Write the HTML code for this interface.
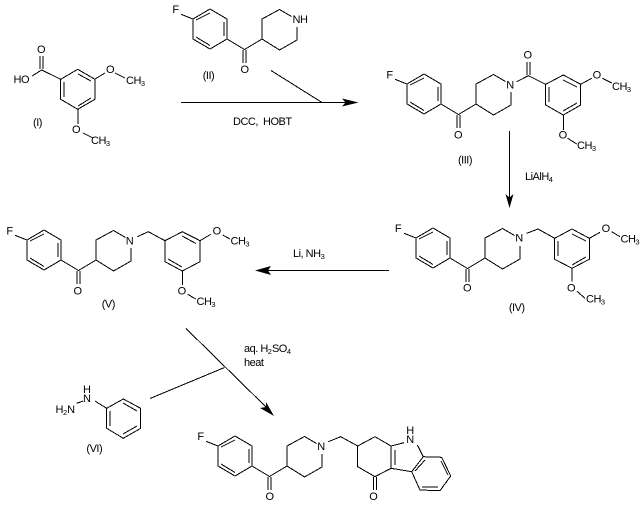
<!DOCTYPE html>
<html><head><meta charset="utf-8"><style>
html,body{margin:0;padding:0;background:#fff}
svg{display:block}
text{font-family:"Liberation Sans",sans-serif;font-size:11px;letter-spacing:-.5px;fill:#000;white-space:pre}
.m{text-anchor:middle}
.s{font-size:7.5px;letter-spacing:0}
.b{stroke:#000;stroke-width:1;fill:none;shape-rendering:crispEdges}
.a{stroke:#000;stroke-width:1;fill:none;shape-rendering:crispEdges}
</style></head><body>
<svg width="643" height="508" viewBox="0 0 643 508" xmlns="http://www.w3.org/2000/svg">
<defs>
<path id="f" class="b" d="M-12 -4.7L0 0L17 -10L34 0L34 20L17 30L0 20L0 0M3 1L17 -6M31 3L31 17M3 18L17 26.5M34 20L51.5 30.5L69 20M50 31L50 44M53 31L53 44M69 20L69 0L86.5 -9.5L98.5 -2.5M104 8L104 21L86.5 31L69 20"/>
</defs>

<!-- I -->
<path class="b" d="M32 76L41.7 70L60.7 79.3L77.7 69.3L95 79.3L95 99.3L77.7 109.3L60.7 99.3L60.7 79.3M40 56L40 69M43 56L43 69M64 82L64 97M78 74L91 81M91 98L78 106M95 79L105 73M115 73L125 78M78 109L78 124M83 133L93 138"/>
<text class="m" x="41" y="53">O</text><text x="13.5" y="83">HO</text>
<text class="m" x="110" y="73">O</text><text x="126" y="84">CH<tspan class="s" dy="2">3</tspan></text>
<text class="m" x="76" y="133">O</text><text x="91" y="144">CH<tspan class="s" dy="2">3</tspan></text>
<text class="m" x="37.5" y="126">(I)</text>

<!-- II -->
<use href="#f" x="193" y="19"/>
<text class="m" x="175.5" y="13">F</text><text class="m" x="244.5" y="73">O</text><text x="292.5" y="23">NH</text>
<text class="m" x="208.5" y="79">(II)</text>

<!-- Arrow 1 -->
<path class="a" d="M181 102.5L346 102.5M271 70.5L322 102.5"/>
<path d="M358.5 102.5L342 98.5L345.5 102.5L342 106.5Z"/>
<text x="233" y="125">DCC,  HOBT</text>

<!-- III -->
<use href="#f" x="407" y="84"/>
<text class="m" x="389.5" y="78.5">F</text><text class="m" x="458" y="138.5">O</text><text class="m" x="510" y="88.5">N</text>
<path class="b" d="M516.7 81.7L528.3 75.7L545.7 84.3L563.3 75L580.7 84.3L580.7 105L563.3 115L545.7 105L545.7 84.3M527 62L527 75M530 62L530 75M549 87L549 102M563 80L577 87M577 103L563 111M580.7 84.3L591.7 78.3M602.3 78.3L611.7 83M563.3 115L563.3 130M567.7 138.3L576.7 144"/>
<text class="m" x="527.5" y="58.5">O</text><text class="m" x="596.7" y="78.5">O</text><text x="612" y="90">CH<tspan class="s" dy="2">3</tspan></text>
<text class="m" x="562.7" y="138.5">O</text><text x="577" y="149">CH<tspan class="s" dy="2">3</tspan></text>
<text class="m" x="465" y="163.5">(III)</text>

<!-- Arrow 2 -->
<path class="a" d="M509.5 131L509.5 198"/>
<path d="M509.5 208L505.5 194L509.5 197.5L513.5 194Z"/>
<text x="525" y="180">LiAlH<tspan class="s" dy="2">4</tspan></text>

<!-- IV -->
<use href="#f" x="416" y="238"/>
<text class="m" x="398" y="232">F</text><text class="m" x="467" y="291.5">O</text><text class="m" x="519" y="241.5">N</text>
<path class="b" d="M526.7 233.3L538 229L554.7 238.3L572 229L589.3 238.3L589.3 259.3L572 268.3L554.7 259.3L554.7 238.3M558 241L558 256M572 234L586 241M586 257L572 265M589.3 238.3L600 232.3M611.7 231.7L620 236.7M572 268.3L572 281.7M576.7 291L585 298.3"/>
<text class="m" x="605.7" y="232">O</text><text x="620.5" y="242.5">CH<tspan class="s" dy="2">3</tspan></text>
<text class="m" x="571" y="291.5">O</text><text x="586" y="302.5">CH<tspan class="s" dy="2">3</tspan></text>
<text class="m" x="516.7" y="311">(IV)</text>

<!-- Arrow 3 -->
<path class="a" d="M389 270.5L268 270.5"/>
<path d="M255 270.5L271 266L268 270.5L271 275Z"/>
<text x="293" y="257">Li, NH<tspan class="s" dy="2">3</tspan></text>

<!-- V -->
<use href="#f" x="27" y="240"/>
<text class="m" x="9.5" y="234.5">F</text><text class="m" x="77.5" y="294.5">O</text><text class="m" x="129.5" y="244.5">N</text>
<path class="b" d="M137.3 236.7L148.3 231.7L165 240.7L182.3 231.7L200 240.7L200 261.7L182.3 271L165 261.7L165 240.7M182 236L196 243.5M168 259L182 267M200 240.7L210.7 234.3M222.7 235L230 239M182.3 271L182.3 285M187.7 294.3L195.7 299"/>
<text class="m" x="216.7" y="234.5">O</text><text x="230.5" y="244.5">CH<tspan class="s" dy="2">3</tspan></text>
<text class="m" x="181.7" y="294.5">O</text><text x="196.5" y="305">CH<tspan class="s" dy="2">3</tspan></text>
<text class="m" x="108.3" y="307.5">(V)</text>

<!-- Arrow 4 -->
<path class="a" d="M186 328.5L266 407M150 398.5L224.5 367.5"/>
<path d="M274 416L260 408L266 407L266 402Z"/>
<text x="244" y="352">aq. H<tspan class="s" dy="2">2</tspan><tspan dy="-2">SO</tspan><tspan class="s" dy="2">4</tspan></text>
<text x="244" y="366">heat</text>

<!-- VI -->
<path class="b" d="M76.7 403.3L83.3 401M95 401L106.7 408.3L123.3 399L140.7 408.3L140.7 428.3L123.3 438.3L106.7 428.3L106.7 408.3M110 411L110 426M123 403L137 411M137 426L123 434"/>
<text class="m" x="86.7" y="393">H</text><text class="m" x="86.7" y="402">N</text>
<text x="55.5" y="413">H<tspan class="s" dy="2">2</tspan><tspan dy="-2">N</tspan></text>
<text class="m" x="94.3" y="452">(VI)</text>

<!-- VII -->
<use href="#f" x="218" y="446"/>
<text class="m" x="200.5" y="440">F</text><text class="m" x="269.5" y="500">O</text><text class="m" x="321" y="450">N</text>
<path class="b" d="M328.3 441.7L340.7 436.7L357.7 446L375 436.7L391 446L391 468.3L375 476.7L357.7 466.7L357.7 446M391 446L404 442.7M417.3 445L423.3 456.7L441.7 457.3L450.7 476L440 490.7L420 490L411.7 471.7L423.3 456.7M391 468.3L411.7 471.7M395 450L395 465M415 471L425 460M441 461L448 475M438 487L422 487M373.5 477L373.5 490M376.5 477L376.5 490"/>
<text class="m" x="373.3" y="500">O</text>
<text class="m" x="410" y="434">H</text><text class="m" x="410" y="443">N</text>
</svg>
</body></html>
